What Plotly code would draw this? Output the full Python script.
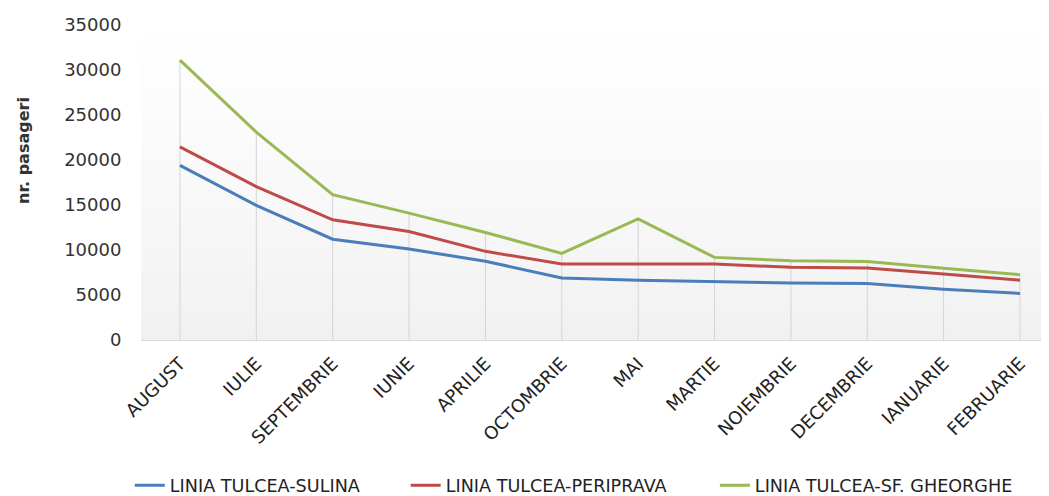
import plotly.graph_objects as go

months = ["AUGUST", "IULIE", "SEPTEMBRIE", "IUNIE", "APRILIE", "OCTOMBRIE",
          "MAI", "MARTIE", "NOIEMBRIE", "DECEMBRIE", "IANUARIE", "FEBRUARIE"]
sulina = [19400, 14950, 11200, 10100, 8750, 6900, 6650, 6500, 6320, 6280, 5650, 5170]
periprava = [21450, 17050, 13350, 12050, 9850, 8450, 8450, 8450, 8070, 8000, 7320, 6650]
sf_gheorghe = [31100, 23100, 16150, 14100, 11950, 9630, 13450, 9180, 8800, 8730, 7980, 7250]

series_names = ["LINIA TULCEA-SULINA", "LINIA TULCEA-PERIPRAVA", "LINIA TULCEA-SF. GHEORGHE"]
y_ticks = [0, 5000, 10000, 15000, 20000, 25000, 30000, 35000]

colors = ["#4A7EBB", "#BE4B48", "#98B954"]
font_family = "DejaVu Sans, Verdana, sans-serif"
legend_ids = ["legend", "legend2", "legend3"]
legend_x = [0.117, 0.382, 0.679]

fig = go.Figure()

# drop lines from highest series down to axis
xs, ys = [], []
for i, m in enumerate(months):
    top = max(sulina[i], periprava[i], sf_gheorghe[i])
    xs += [m, m, None]
    ys += [0, top, None]
fig.add_trace(go.Scatter(x=xs, y=ys, mode="lines", line=dict(color="#D4D4D4", width=1),
                         showlegend=False, hoverinfo="skip"))

for name, vals, c, lid in zip(series_names, [sulina, periprava, sf_gheorghe], colors, legend_ids):
    fig.add_trace(go.Scatter(x=months, y=vals, mode="lines", name=name, legend=lid,
                             line=dict(color=c, width=3)))

# gradient background in plot area
shapes = []
n = 60
for k in range(n):
    t0 = k / n
    t1 = (k + 1) / n
    tm = (t0 + t1) / 2  # 0 bottom, 1 top
    g = 240 + (255 - 240) * (tm ** 0.8)
    g = int(round(min(255, g)))
    shapes.append(dict(type="rect", xref="x domain", yref="y domain", x0=0, x1=1,
                       y0=t0, y1=t1 + 0.002, fillcolor=f"rgb({g},{g},{g})",
                       line=dict(width=0), layer="below"))

legend_style = dict(orientation="h", xref="container", yref="container",
                    y=0.022, xanchor="left", yanchor="middle",
                    font=dict(size=17.6, color="#222222"), bgcolor="rgba(0,0,0,0)")

fig.update_layout(
    width=1041, height=488,
    margin=dict(l=133, r=0, t=17, b=156, autoexpand=False),
    paper_bgcolor="white", plot_bgcolor="white",
    shapes=shapes,
    font=dict(family=font_family, color="#333333"),
    showlegend=True,
    legend=dict(x=legend_x[0], **legend_style),
    legend2=dict(x=legend_x[1], **legend_style),
    legend3=dict(x=legend_x[2], **legend_style),
    annotations=[dict(text="<b>nr. pasageri</b>", textangle=-90, xref="paper", yref="paper",
                      x=-0.13, y=0.603, xanchor="center", yanchor="middle", showarrow=False,
                      font=dict(size=16, color="#333333"))],
)

fig.update_xaxes(type="category", categoryorder="array", categoryarray=months,
                 range=[-0.51, 11.38], showgrid=False, zeroline=False, automargin=False,
                 showline=True, linecolor="#D9D9D9", linewidth=1,
                 tickangle=-45, ticks="outside", ticklen=5, tickcolor="rgba(0,0,0,0)",
                 tickfont=dict(size=18, color="#222222"))
fig.update_yaxes(range=[0, 35000], tickvals=y_ticks, ticktext=[str(v) for v in y_ticks],
                 showgrid=False, zeroline=False, showline=False, automargin=False,
                 ticks="outside", ticklen=15, tickcolor="rgba(0,0,0,0)",
                 tickfont=dict(size=18, color="#333333"))

fig.write_html("out.html")
